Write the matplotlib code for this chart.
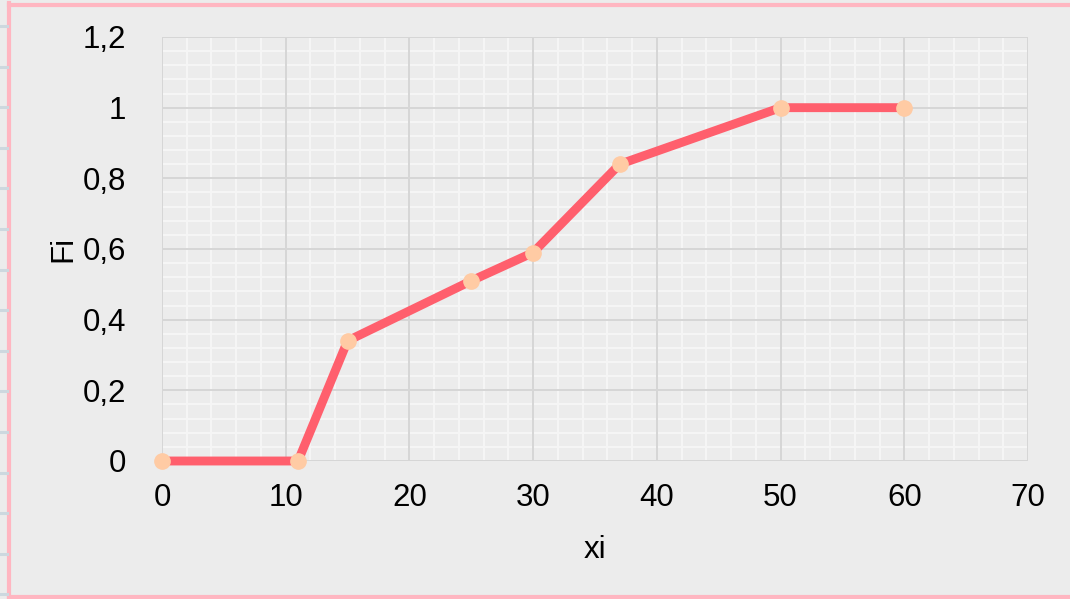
import matplotlib
matplotlib.use("Agg")
import matplotlib.pyplot as plt
from matplotlib.lines import Line2D
from matplotlib.ticker import FuncFormatter, MultipleLocator

# Distribución acumulada Fi frente a xi
xi = [0, 11, 15, 25, 30, 37, 50, 60]
Fi = [0, 0, 0.34, 0.51, 0.59, 0.84, 1, 1]

x_ticks = [0, 10, 20, 30, 40, 50, 60, 70]
y_ticks = [0, 0.2, 0.4, 0.6, 0.8, 1, 1.2]

BG = "#ececec"
LINE = "#ff5f6d"
MARKER = "#ffcba4"
BORDER = "#ffb6c1"
FS = 22.5

plt.rcParams["font.family"] = ["Liberation Sans", "DejaVu Sans"]

fig = plt.figure(figsize=(10.7, 5.99), dpi=100, facecolor=BG)
W, H = 1070, 599
ax = fig.add_axes([162 / W, 1 - 461 / H, (1028 - 162) / W, (461 - 37) / H])
ax.set_facecolor(BG)

ax.plot(xi, Fi, color=LINE, linewidth=6.4, solid_capstyle="butt", zorder=3,
        marker="o", markersize=11, markerfacecolor=MARKER, markeredgecolor=MARKER,
        clip_on=False)

ax.set_xlim(0, 70)
ax.set_ylim(0, 1.2)
ax.set_xticks(x_ticks)
ax.set_yticks(y_ticks)
ax.xaxis.set_minor_locator(MultipleLocator(2))
ax.yaxis.set_minor_locator(MultipleLocator(0.04))

def coma(v, _pos):
    s = f"{v:.1f}".rstrip("0").rstrip(".")
    return s.replace(".", ",")

ax.yaxis.set_major_formatter(FuncFormatter(coma))

# rejilla menor clara, la mayor gris por encima
ax.grid(which="minor", color="#f5f5f5", linewidth=1.5)
ax.set_axisbelow(True)
for t in x_ticks:
    ax.axvline(t, color="#d6d6d6", linewidth=1.4, zorder=1)
for t in y_ticks:
    ax.axhline(t, color="#d6d6d6", linewidth=1.4, zorder=1)
for side in ax.spines.values():
    side.set_visible(False)

ax.tick_params(which="both", length=0, labelsize=FS, colors="black")
ax.tick_params(axis="x", pad=16)
ax.tick_params(axis="y", pad=26)

ax.set_xlabel("xi", fontsize=FS, labelpad=16)
ax.set_ylabel("Fi", fontsize=FS, labelpad=3)

# marco rosa de la hoja y las líneas de fila a la izquierda
fig.add_artist(Line2D([9 / W, 9 / W], [0, 1 - 3 / H], color=BORDER, linewidth=3))
fig.add_artist(Line2D([9 / W, 1], [1 - 5 / H, 1 - 5 / H], color=BORDER, linewidth=3))
fig.add_artist(Line2D([9 / W, 1], [1 - 597 / H, 1 - 597 / H], color=BORDER, linewidth=3))
for k in range(15):
    yy = 1 - (26 + 40.6 * k) / H
    fig.add_artist(Line2D([0, 7 / W], [yy, yy], color="#cdd8df", linewidth=2.2))

fig.savefig("out.png", dpi=100, facecolor=BG)
